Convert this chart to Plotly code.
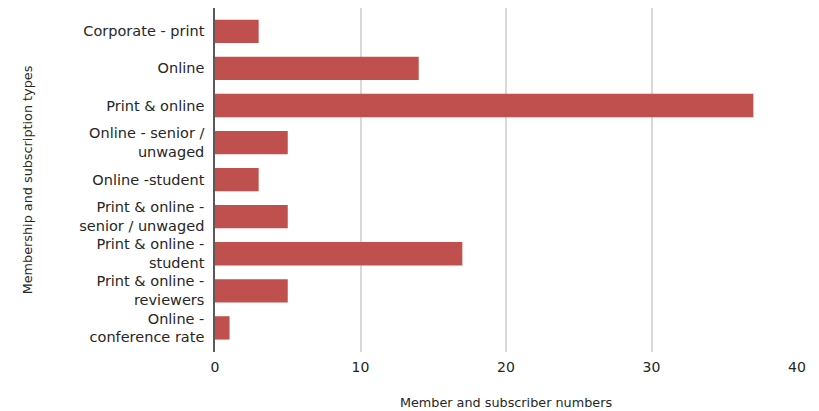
import plotly.graph_objects as go

categories = [
    "Corporate - print",
    "Online",
    "Print & online",
    "Online - senior /<br>unwaged",
    "Online -student",
    "Print & online -<br>senior / unwaged",
    "Print & online -<br>student",
    "Print & online -<br>reviewers",
    "Online -<br>conference rate",
]
values = [3, 14, 37, 5, 3, 5, 17, 5, 1]
x_ticks = [0, 10, 20, 30, 40]

font_family = "DejaVu Sans, sans-serif"
text_color = "#262626"

fig = go.Figure(
    go.Bar(
        x=values,
        y=categories,
        orientation="h",
        marker=dict(color="#C0504D", line=dict(width=0)),
        width=0.63,
    )
)

# the page body adds an 8px offset, so the figure is sized to fit the window
fig.update_layout(
    width=811,
    height=403,
    margin=dict(l=207, r=22, t=0, b=59),
    plot_bgcolor="white",
    paper_bgcolor="white",
    showlegend=False,
    font=dict(family=font_family, size=13, color=text_color),
)

fig.update_xaxes(
    range=[0, 40],
    tickvals=x_ticks,
    ticktext=[str(v) for v in x_ticks],
    automargin=False,
    showgrid=True,
    gridcolor="#D9D9D9",
    gridwidth=1.5,
    zeroline=False,
    showline=False,
    ticks="",
    ticklabelstandoff=5,
    tickfont=dict(size=14, color=text_color),
    title=dict(text="Member and subscriber numbers", standoff=24,
               font=dict(size=12.8, color=text_color)),
)

fig.update_yaxes(
    type="category",
    categoryorder="array",
    categoryarray=categories,
    range=[8.65, -0.63],
    automargin=False,
    showgrid=False,
    showline=True,
    linecolor="#595959",
    linewidth=1.5,
    ticks="",
    ticklabelstandoff=6,
    tickfont=dict(size=14.5, color=text_color),
    title=dict(text="Membership and subscription types", standoff=44,
               font=dict(size=12.8, color=text_color)),
)

fig.write_html("out.html")
